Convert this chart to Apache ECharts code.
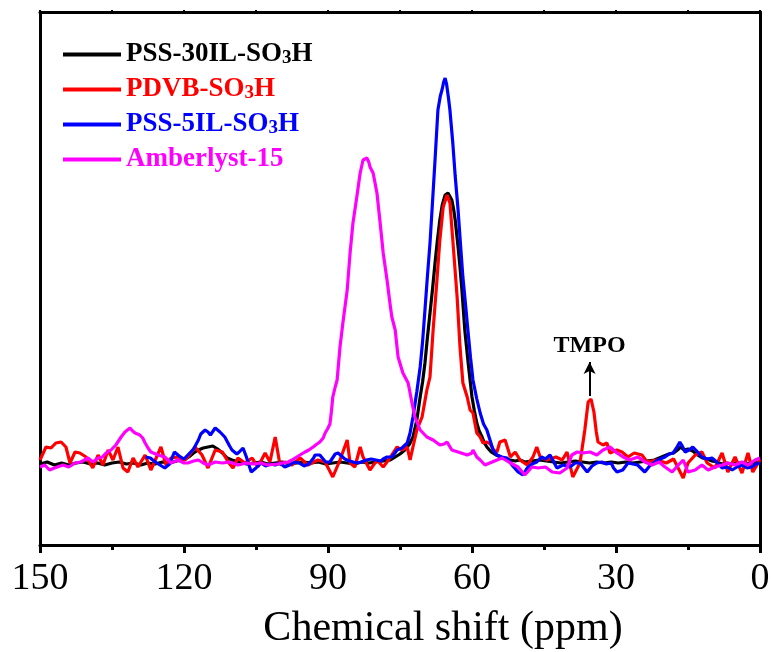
<!DOCTYPE html>
<html>
<head>
<meta charset="utf-8">
<script src="https://cdn.jsdelivr.net/npm/echarts@6/dist/echarts.min.js"></script>
<style>html,body{margin:0;padding:0;background:#fff}#c{width:773px;height:652px}</style>
</head>
<body>
<div id="c"></div>
<script>
var seriesNames = ['PSS-30IL-SO3H', 'PDVB-SO3H', 'PSS-5IL-SO3H', 'Amberlyst-15'];
var seriesColors = ['#000000', '#ff0000', '#0000ff', '#ff00ff'];
var xTicks = [0, 30, 60, 90, 120, 150];
var xTitle = 'Chemical shift (ppm)';
var annotation = {label: 'TMPO', ppm: 35.5, from: 66, to: 100};

// [chemical shift (ppm), intensity (a.u.)]
var pss30 = [[150,-2],[148.5,0],[147,-3],[145.5,-1],[144,-3],[142.5,-1],[141,0],[139.5,-2],[138,-1],[136.5,-3],[135,-1],[133.5,0],[132,-2],[130.5,-1],[129,-3],[127.5,-1],[126,-2],[124.5,0],[123,-1],[121.5,1],[120,2],[119,5],[118,9],[117,12],[116,14],[115,15],[114,16],[113,13],[112,9],[111,4],[110,2],[108.5,0],[107,-2],[105.5,-1],[104,0],[102.5,-2],[101,-1],[99.5,0],[98,-2],[96.5,-1],[95,0],[93.5,-1],[92,0],[90.5,-2],[89,-1],[87.5,0],[86,-1],[84.5,-2],[83,0],[81.5,-1],[80,0],[78.5,1],[77,2],[76,5],[75,8],[74,12],[73,18],[72.3,25],[71.5,42],[70.8,65],[70.3,80],[69.8,99],[69.3,124],[68.75,149],[68.2,174],[67.7,199],[67.2,222],[66.7,242],[66.2,257],[65.6,267],[65,269],[64.6,267],[64.2,262],[63.8,252],[63.5,242],[62.9,215],[62.5,195],[62.1,172],[61.5,132],[60.8,99],[60.4,82],[60,65],[59.5,51],[59,39],[58.5,31],[57.9,25],[57.4,19],[56.9,15],[56,10],[55,7],[54,5],[53,3],[52,2],[51,1],[50,2],[49,0],[47.5,1],[46,2],[44.5,1],[43,0],[41.5,-1],[40,0],[38.5,1],[37,0],[35.5,-1],[34,0],[32.5,-1],[31,0],[29.5,-1],[28,0],[26.5,-1],[25,0],[23.5,1],[22,2],[21,4],[20,6],[19,8],[18,9],[17.2,12],[16.5,15],[15.8,12],[15,13],[14,11],[13,7],[12,4],[11,3],[10,1],[9,0],[8,-2],[7,-1],[6,-2],[5,-1],[4,-1],[3,-2],[2,-1],[1,-1],[0,0]];

var pdvb = [[150,2],[149.8,4],[148.75,15],[147.7,14],[146.7,19],[145.6,20],[144.6,15],[143.75,-1],[142.7,10],[141.7,9],[140.4,5],[139,-6],[137.9,7],[136.9,-3],[135.8,12],[134.8,2],[133.75,15],[132.7,-6],[131.7,-10],[130.6,4],[129.6,-5],[128.1,7],[126.9,-8],[125.8,4],[124.8,15],[123.75,-3],[122.7,4],[121.25,5],[119.8,2],[119.2,5],[117.7,15],[116.25,7],[115,-6],[113.5,12],[112,10],[110.8,0],[109.8,-6],[108.75,4],[107.3,-1],[105.8,4],[104.6,-5],[103.1,9],[102.1,0],[101,25],[100,-3],[99,0],[97.5,-3],[95.8,4],[94.2,-3],[92.1,2],[90.6,0],[89,-15],[87.5,2],[86,22],[85.4,-1],[84.4,-5],[83.3,15],[82.7,5],[81.25,-8],[79.8,2],[78.5,-5],[77.1,4],[75.6,15],[74.6,12],[73.5,15],[72.9,2],[72.3,15],[71.5,32],[70.4,45],[69.4,72],[68.75,85],[68.1,132],[67.3,182],[66.7,222],[66,255],[65.2,267],[64.6,259],[64,222],[63.1,165],[62.5,115],[61.9,79],[61,65],[60.4,52],[59.8,49],[59,29],[58.3,25],[57.7,19],[56.9,20],[56.2,18],[55.5,12],[54.8,10],[54.2,20],[53.1,22],[52,5],[51,10],[50,2],[48.5,-3],[47.3,5],[46.5,15],[45.8,5],[44.4,2],[42.5,5],[41.2,2],[40.2,10],[39,-15],[37.5,-1],[36.5,32],[35.8,60],[35.2,63],[34.6,50],[34.1,30],[33.75,20],[32.7,17],[31.9,19],[31.25,9],[29.8,12],[28.75,10],[27.5,5],[26.2,9],[24.6,7],[23.5,0],[21.5,2],[19.5,-1],[18,3],[16,-16],[15,-1],[13.5,7],[12.1,10],[11,-1],[9.4,-6],[7.9,9],[6.7,-10],[5.2,5],[3.75,-11],[2.5,9],[1.5,-10],[0.4,-1],[0,2]];

var pss5 = [[128,5],[127,4],[126,0],[125,-3],[124,-6],[123,-2],[122,10],[121,6],[120,3],[119,8],[118,13],[117,22],[116.5,28],[115.6,32],[115,30],[114.5,27],[113.5,34],[112.5,30],[111.5,25],[110.5,16],[110,12],[109,8],[108.5,10],[107.7,14],[107,5],[106,-10],[105,-6],[104,-1],[103,-4],[102,-2],[101,-3],[100,-1],[99,-5],[98,-3],[97,0],[96,-1],[95,-4],[94,-2],[93,4],[92.7,7],[91.7,7],[90.5,0],[89.6,0],[88.5,8],[87.9,9],[86.5,3],[85.5,1],[84,-1],[83,0],[82,2],[81,3],[80,2],[79,1],[78.5,3],[77.7,5],[76.7,5],[75.6,12],[74.6,14],[73.5,19],[72.9,29],[72.3,45],[71.5,70],[70.8,95],[70.3,120],[69.8,152],[69.3,185],[68.75,219],[68.2,262],[67.7,302],[67.1,352],[66.6,366],[66.25,372],[65.9,380],[65.6,384],[65.3,378],[64.9,364],[64.6,352],[64,319],[63.5,286],[62.9,252],[62.4,218],[61.9,185],[61.3,155],[60.8,129],[60.3,104],[59.8,82],[59,63],[58.3,49],[57.6,38],[56.9,32],[56.25,22],[55.6,12],[54.8,7],[53.8,5],[52.7,4],[51.5,-4],[50.4,-10],[49.4,-13],[48.5,-6],[47.5,-2],[46.5,0],[45.5,5],[44.7,3],[43.75,7],[42.3,-6],[41,-3],[39.6,-5],[38.5,-1],[37.5,-1],[36,-10],[35,-4],[34,-1],[33,0],[32,-2],[31,-1],[30.5,-6],[29.8,-10],[28.6,-8],[27.5,-1],[26.5,-2],[25.5,-3],[24,-10],[23,-4],[21.9,0],[20.8,3],[19.8,5],[18.9,8],[18.1,9],[17.4,14],[16.7,20],[16.2,16],[15.6,10],[14.8,12],[14,15],[13,10],[12.1,5],[11,3],[10,4],[9,0],[7.9,-6],[6.8,-5],[5.8,-8],[4.8,-5],[3.75,-3],[2.7,-6],[1.7,-5],[0.8,-2],[0,-1]];

var amberlyst = [[150,-5],[149,-3],[148,-8],[147,-6],[146.7,-5],[145.2,-3],[144,-5],[142.7,-1],[141.5,0],[140,4],[139,0],[137.9,4],[137,5],[136.25,9],[135.2,12],[134.2,17],[133.1,25],[132.3,30],[131.25,34],[130.7,31],[130.2,29],[129.2,27],[128.6,24],[128.1,19],[127.5,14],[126.9,10],[125.4,7],[124,5],[122.7,-1],[121.25,2],[120,-1],[119.2,-1],[118,1],[117,2],[116,-1],[115,-3],[113.5,0],[112,-1],[110.5,0],[108.75,-3],[107,-1],[105.5,-2],[104,-1],[102.5,-3],[100.5,-2],[98.3,0],[97.5,2],[96.5,5],[95.5,8],[94.8,10],[94,12],[93.1,15],[92.3,18],[91.7,20],[91,24],[90.6,29],[90.1,33],[89.6,38],[89.3,50],[89,65],[88.5,75],[88.1,82],[87.5,115],[86.9,139],[86,172],[85.4,209],[84.8,239],[84,265],[83.3,289],[82.7,302],[81.9,304],[81.5,300],[81.25,295],[80.6,289],[79.8,269],[79.2,242],[78.5,209],[77.7,182],[77.1,159],[76.7,145],[76,132],[75.4,105],[74.4,89],[73.3,79],[72.5,59],[71.9,45],[70.8,32],[69.4,25],[68.1,22],[66.7,17],[65.8,18],[65.2,20],[64.2,12],[62.9,10],[61,7],[60,9],[59.8,12],[59,5],[58.3,2],[57.3,-3],[55.8,0],[53.75,4],[52,-1],[50.4,-5],[49,-13],[47.5,-5],[46.25,-6],[44.7,-5],[43.3,-10],[41.7,-11],[40.2,-6],[39.2,7],[38.1,10],[36.9,9],[35.4,10],[34,7],[32.7,12],[31.25,15],[29.8,9],[28.5,5],[27.2,2],[25.4,5],[24,0],[22.5,-3],[21,0],[19.8,-5],[18.3,-10],[17,-3],[16,2],[15,-10],[13.5,-8],[12.1,-3],[10.8,-8],[9.4,-5],[7.9,-3],[6.7,-1],[5.2,-3],[3.75,0],[2.5,-3],[1,2],[0,4]];

var allData = [pss30, pdvb, pss5, amberlyst];
var serif = '"Liberation Serif", "Times New Roman", serif';

var rich = {};
seriesColors.forEach(function (c, i) {
  rich['m' + i] = {color: c, fontFamily: serif, fontWeight: 'bold', fontSize: 27, lineHeight: 30};
  rich['s' + i] = {color: c, fontFamily: serif, fontWeight: 'bold', fontSize: 19, lineHeight: 30, padding: [7, 0, 0, 0]};
});

var chart = echarts.init(document.getElementById('c'), null, {renderer: 'canvas'});
var option = {
  animation: false,
  backgroundColor: '#ffffff',
  grid: {left: 40, right: 13, top: 12, bottom: 107, outerBoundsMode: 'none', containLabel: false},
  legend: {
    orient: 'vertical', left: 58, top: 36, itemWidth: 58, itemHeight: 4, itemGap: 8,
    icon: 'rect', selectedMode: false,
    data: seriesNames.map(function (n, i) { return {name: n, icon: 'rect', itemStyle: {color: seriesColors[i]}}; }),
    formatter: function (name) {
      var i = seriesNames.indexOf(name);
      var m = name.match(/^(.*SO)3(H)$/);
      if (m) return '{m' + i + '|' + m[1] + '}{s' + i + '|3}{m' + i + '|' + m[2] + '}';
      return '{m' + i + '|' + name + '}';
    },
    textStyle: {rich: rich, padding: [0, 0, 0, 0]}
  },
  xAxis: [{
    type: 'value', inverse: true, min: 0, max: 150, interval: 30,
    name: xTitle, nameLocation: 'middle', nameGap: 63,
    nameTextStyle: {fontFamily: serif, fontSize: 42, color: '#000', padding: [0, 0, 0, 86]},
    axisLine: {show: true, onZero: false, lineStyle: {color: '#000', width: 3}},
    axisTick: {show: true, inside: false, length: 8, lineStyle: {color: '#000', width: 3}},
    minorTick: {show: true, splitNumber: 2, length: 5, lineStyle: {color: '#000', width: 3}},
    axisLabel: {show: true, fontFamily: serif, fontSize: 38, color: '#000', margin: 15,
      customValues: xTicks},
    splitLine: {show: false}
  }, {
    type: 'value', inverse: true, min: 0, max: 150, interval: 15, position: 'top',
    axisLine: {show: true, onZero: false, lineStyle: {color: '#000', width: 3}},
    axisTick: {show: true, inside: false, length: 2, lineStyle: {color: '#000', width: 2}},
    axisLabel: {show: false}, splitLine: {show: false}
  }],
  yAxis: [{
    type: 'value', min: -83, max: 450,
    axisLine: {show: true, onZero: false, lineStyle: {color: '#000', width: 3}},
    axisTick: {show: false}, axisLabel: {show: false}, splitLine: {show: false}
  }, {
    type: 'value', min: -83, max: 450, position: 'right',
    axisLine: {show: true, onZero: false, lineStyle: {color: '#000', width: 3}},
    axisTick: {show: false}, axisLabel: {show: false}, splitLine: {show: false}
  }],
  series: allData.map(function (d, i) {
    var s = {
      name: seriesNames[i], type: 'line', data: d, showSymbol: false, symbol: 'none',
      lineStyle: {color: seriesColors[i], width: 3.2}, itemStyle: {color: seriesColors[i]},
      z: 2 + i, smooth: false
    };
    if (i === 1) {
      s.markLine = {
        silent: true, symbol: ['none', 'arrow'], symbolSize: [9, 12],
        lineStyle: {color: '#000', width: 2, type: 'solid'},
        label: {show: true, position: 'end', formatter: annotation.label, fontFamily: serif,
          fontWeight: 'bold', fontSize: 24, color: '#000', distance: 4},
        data: [[{coord: [annotation.ppm, annotation.from]}, {coord: [annotation.ppm, annotation.to]}]]
      };
    }
    return s;
  })
};
chart.setOption(option);
</script>
</body>
</html>
